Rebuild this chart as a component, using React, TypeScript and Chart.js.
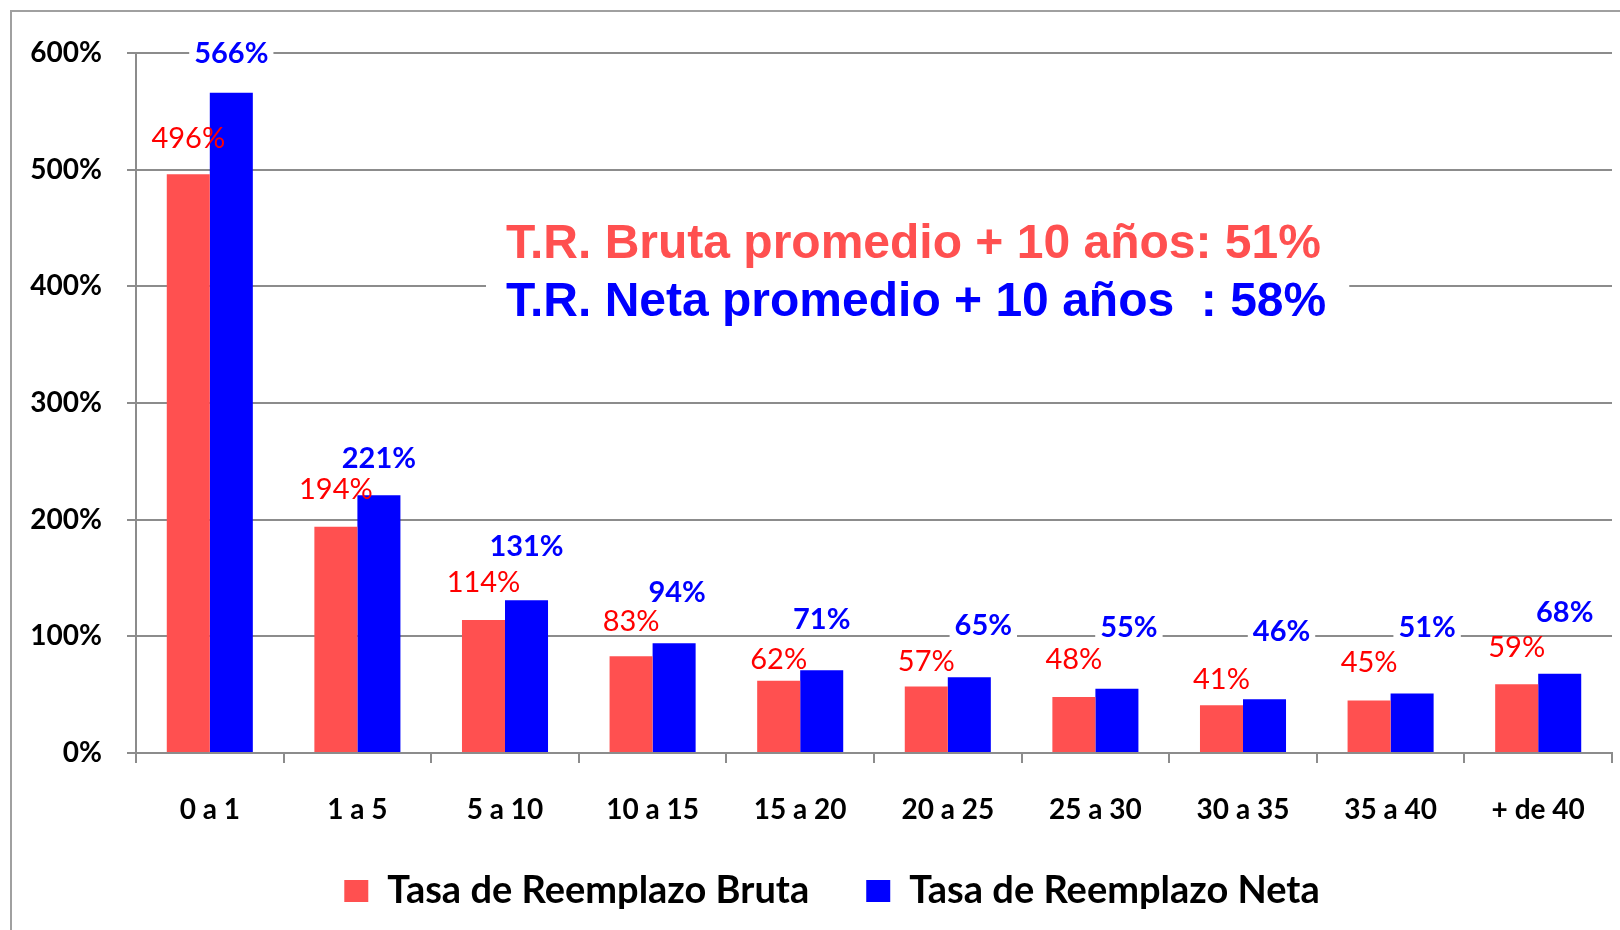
import React, { useEffect, useRef } from 'react';
import { Chart, registerables } from 'chart.js';

Chart.register(...registerables);

// ---------- data ----------
const categories = ['0 a 1', '1 a 5', '5 a 10', '10 a 15', '15 a 20', '20 a 25', '25 a 30', '30 a 35', '35 a 40', '+ de 40'];
const brutaValues = [496, 194, 114, 83, 62, 57, 48, 41, 45, 59];
const netaValues = [566, 221, 131, 94, 71, 65, 55, 46, 51, 68];
const seriesNames = ['Tasa de Reemplazo Bruta', 'Tasa de Reemplazo Neta'];
const yTickMax = 600;
const yTickStep = 100;
const summaryLines = ['T.R. Bruta promedio + 10 años: 51%', 'T.R. Neta promedio + 10 años  : 58%'];
// summary text anchors (category index for left edge, y value for each baseline)
const summaryAnchorCategory = 2;
const summaryBaselineValues = [424.3, 374.6];

// label nudges (pixels above the bar top / sideways), as placed in the original
const brutaLabelLift = [37, 38, 38, 36, 22, 26, 38, 27, 39, 38];
const netaLabelLift = [40, 38, 55, 52, 52, 53, 62, 69, 67, 62];
const netaLabelShift = [0, 0, 0, 3, 0, 14, 12, 17, 15, 5];

const RED = '#FF5050';
const BLUE = '#0000FF';
const GRID = '#8c8c8c';
const FONT = 'Lato';

const valueLabelsPlugin = {
  id: 'valueLabels',
  afterDatasetsDraw(chart: any) {
    const ctx = chart.ctx;
    const m0 = chart.getDatasetMeta(0);
    const m1 = chart.getDatasetMeta(1);
    const size = 29;
    ctx.save();
    ctx.textAlign = 'center';
    ctx.textBaseline = 'alphabetic';
    // neta labels (bold, white background)
    ctx.font = `700 ${size}px ${FONT}`;
    m1.data.forEach((bar: any, i: number) => {
      const text = netaValues[i] + '%';
      const w = ctx.measureText(text).width;
      const cx = bar.x + netaLabelShift[i];
      const cy = bar.y - netaLabelLift[i];
      ctx.fillStyle = '#ffffff';
      ctx.fillRect(cx - w / 2 - 5, cy - 15, w + 10, 30);
      ctx.fillStyle = BLUE;
      ctx.fillText(text, cx, cy + 0.36 * size);
    });
    // bruta labels (regular, no background)
    ctx.font = `400 ${size}px ${FONT}`;
    ctx.fillStyle = '#FF0000';
    m0.data.forEach((bar: any, i: number) => {
      const text = brutaValues[i] + '%';
      const cy = bar.y - brutaLabelLift[i];
      ctx.fillText(text, bar.x, cy + 0.36 * size);
    });
    ctx.restore();
  },
};

const summaryPlugin = {
  id: 'summaryText',
  afterDatasetsDraw(chart: any) {
    const ctx = chart.ctx;
    const xs = chart.scales.x;
    const ys = chart.scales.y;
    const size = 48;
    ctx.save();
    ctx.font = `700 ${size}px "Liberation Sans", Arial, sans-serif`;
    ctx.textAlign = 'left';
    ctx.textBaseline = 'alphabetic';
    const left = xs.getPixelForValue(summaryAnchorCategory) + 1;
    const b0 = ys.getPixelForValue(summaryBaselineValues[0]);
    const b1 = ys.getPixelForValue(summaryBaselineValues[1]);
    const w = Math.max(ctx.measureText(summaryLines[0]).width, ctx.measureText(summaryLines[1]).width);
    ctx.fillStyle = '#ffffff';
    ctx.fillRect(left - 20, b0 - size * 0.716 - 10, w + 43, b1 - b0 + size * 0.716 + 22);
    ctx.fillStyle = RED;
    ctx.fillText(summaryLines[0], left, b0);
    ctx.fillStyle = BLUE;
    ctx.fillText(summaryLines[1], left, b1);
    ctx.restore();
  },
};

// move the bottom legend so it sits like the original (centred a bit right, slightly higher)
const LEGEND_SHIFT_X = 26;
const LEGEND_SHIFT_Y = -30;
const legendShiftPlugin = {
  id: 'legendShift',
  afterLayout(chart: any) {
    const lg = chart.legend;
    if (lg) {
      lg.left += LEGEND_SHIFT_X;
      lg.right += LEGEND_SHIFT_X;
      lg.top += LEGEND_SHIFT_Y;
      lg.bottom += LEGEND_SHIFT_Y;
    }
  },
};

export default function App() {
  const canvasRef = useRef<HTMLCanvasElement | null>(null);

  useEffect(() => {
    const canvas = canvasRef.current;
    if (!canvas) return;
    const PLOT_BOTTOM = 753;
    const LAYOUT_BOTTOM = -20;
    const chart = new Chart(canvas, {
      type: 'bar',
      data: {
        labels: categories,
        datasets: [
          {
            label: seriesNames[0],
            data: brutaValues,
            backgroundColor: RED,
            borderWidth: 0,
            categoryPercentage: 0.583,
            barPercentage: 1.0,
          },
          {
            label: seriesNames[1],
            data: netaValues,
            backgroundColor: BLUE,
            borderWidth: 0,
            categoryPercentage: 0.583,
            barPercentage: 1.0,
          },
        ],
      },
      options: {
        responsive: false,
        animation: false,
        devicePixelRatio: 1,
        layout: { padding: { left: 0, right: 8, top: 53, bottom: LAYOUT_BOTTOM } },
        plugins: {
          legend: {
            position: 'bottom',
            labels: {
              boxWidth: 24,
              boxHeight: 22,
              padding: 57,
              color: '#000',
              font: { family: FONT, size: 38, weight: 'bold' },
            },
          },
          tooltip: { enabled: false },
          title: { display: false },
        },
        scales: {
          x: {
            grid: {
              drawOnChartArea: false,
              drawTicks: true,
              tickLength: 10,
              color: GRID,
              lineWidth: 2,
              offset: true,
            },
            border: { display: true, color: GRID, width: 2 },
            ticks: {
              color: '#000',
              font: { family: FONT, size: 28, weight: 'bold' },
              padding: 30,
              maxRotation: 0,
              autoSkip: false,
            },
            afterFit: (s: any) => {
              const lh = s.chart.legend ? s.chart.legend.height : 0;
              s.height = s.chart.height - LAYOUT_BOTTOM - lh - PLOT_BOTTOM;
            },
          },
          y: {
            min: 0,
            max: yTickMax,
            grid: { color: GRID, lineWidth: 2, tickLength: 9, drawTicks: true },
            border: { display: true, color: GRID, width: 2 },
            ticks: {
              stepSize: yTickStep,
              color: '#000',
              font: { family: FONT, size: 28, weight: 'bold' },
              padding: 25,
              callback: (v: any) => v + '%',
            },
            afterFit: (s: any) => {
              s.width = 136;
            },
          },
        },
      },
      plugins: [summaryPlugin, valueLabelsPlugin, legendShiftPlugin],
    } as any);
    return () => chart.destroy();
  }, []);

  return (
    <div style={{ position: 'fixed', left: 0, top: 0, width: 1620, height: 930, overflow: 'hidden', background: '#fff' }}>
      <div
        style={{
          position: 'absolute',
          left: 10,
          top: 10,
          width: 1700,
          height: 1000,
          borderLeft: '2px solid #a0a0a0',
          borderTop: '2px solid #a0a0a0',
        }}
      />
      <canvas
        ref={canvasRef}
        width={1620}
        height={930}
        style={{ position: 'absolute', left: 0, top: 0, width: 1620, height: 930, display: 'block' }}
      />
    </div>
  );
}
